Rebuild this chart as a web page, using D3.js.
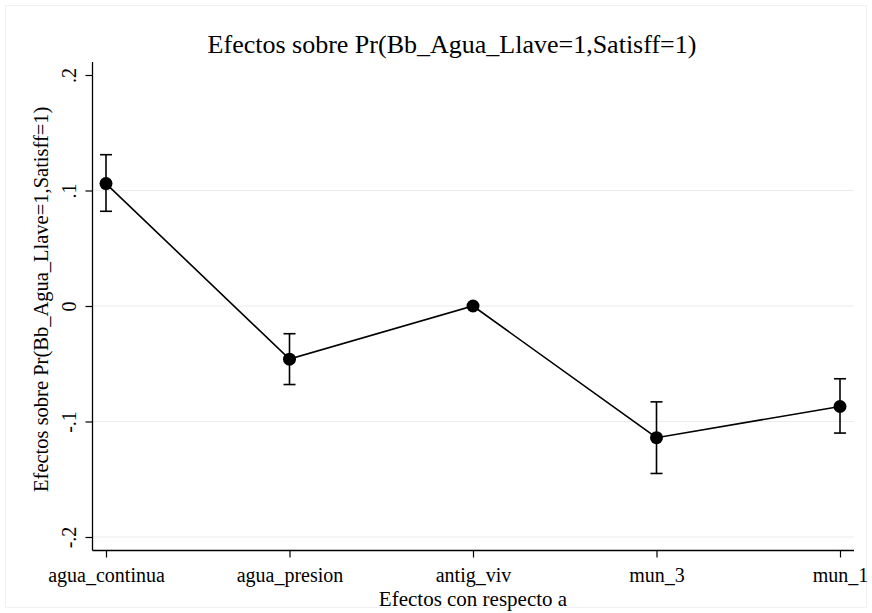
<!DOCTYPE html>
<html>
<head>
<meta charset="utf-8">
<script src="https://cdn.jsdelivr.net/npm/d3@7"></script>
<style>
html,body{margin:0;padding:0;background:#fff;}
svg{display:block;}
text{font-family:"Liberation Serif","Times New Roman",serif;fill:#000;}
</style>
</head>
<body>
<svg id="chart" width="872" height="613"></svg>
<script>
const categories = ["agua_continua","agua_presion","antig_viv","mun_3","mun_1"];
const estimates = [0.106, -0.046, 0.000, -0.114, -0.087];
const ciLower = [0.082, -0.068, -0.001, -0.145, -0.110];
const ciUpper = [0.131, -0.024, 0.001, -0.083, -0.063];
const yTicks = [-0.2, -0.1, 0, 0.1, 0.2];
const yTickLabels = ["-.2", "-.1", "0", ".1", ".2"];
const titleText = "Efectos sobre Pr(Bb_Agua_Llave=1,Satisff=1)";
const yTitle = "Efectos sobre Pr(Bb_Agua_Llave=1,Satisff=1)";
const xTitle = "Efectos con respecto a";

const svg = d3.select("#chart");
const W = 872, H = 613;

svg.append("rect").attr("x",5.5).attr("y",5.5).attr("width",W-11).attr("height",H-11)
  .attr("fill","#fff").attr("stroke","#f2f2f2");

const plotLeft = 92.5, plotRight = 854, plotTop = 62, plotBottom = 550.5;

const x = d3.scaleLinear().domain([1,5]).range([106,840]);
const y = d3.scaleLinear().domain([-0.2,0.2]).range([537,75]);

// gridlines
svg.append("g").selectAll("line").data(yTicks.filter(t => t < 0.2)).join("line")
  .attr("x1",plotLeft).attr("x2",plotRight)
  .attr("y1",d=>y(d)).attr("y2",d=>y(d))
  .attr("stroke","#ececec").attr("stroke-width",1.2);

// y axis
const yAxis = d3.axisLeft(y).tickValues(yTicks)
  .tickFormat((d,i)=>yTickLabels[i]).tickSize(7).tickSizeOuter(0).tickPadding(6);
const gy = svg.append("g").attr("transform",`translate(${plotLeft},0)`).call(yAxis);
gy.attr("font-family","Liberation Serif").attr("font-size",20);
gy.select(".domain").remove();
gy.append("line").attr("x1",0).attr("x2",0).attr("y1",plotTop).attr("y2",plotBottom)
  .attr("stroke","#000").attr("stroke-width",1.3);
gy.selectAll(".tick line").attr("stroke","#000").attr("stroke-width",1.2);
gy.selectAll(".tick text")
  .attr("font-size",20)
  .attr("text-anchor","middle").attr("x",null).attr("dy",null)
  .attr("transform","translate(-17,0) rotate(-90)");

// x axis
const xAxis = d3.axisBottom(x).tickValues([1,2,3,4,5])
  .tickFormat((d,i)=>categories[i]).tickSize(7).tickSizeOuter(0).tickPadding(10);
const gx = svg.append("g").attr("transform",`translate(0,${plotBottom})`).call(xAxis);
gx.attr("font-family","Liberation Serif").attr("font-size",20);
gx.select(".domain").remove();
gx.append("line").attr("x1",plotLeft).attr("x2",plotRight).attr("y1",0).attr("y2",0)
  .attr("stroke","#000").attr("stroke-width",1.3);
gx.selectAll(".tick line").attr("stroke","#000").attr("stroke-width",1.2);
gx.selectAll(".tick text").attr("font-size",20);

// error bars
const eb = svg.append("g");
categories.forEach((c,i)=>{
  const cx = x(i+1);
  eb.append("line").attr("x1",cx).attr("x2",cx).attr("y1",y(ciUpper[i])).attr("y2",y(ciLower[i]))
    .attr("stroke","#000").attr("stroke-width",1.6);
  [ciUpper[i],ciLower[i]].forEach(v=>{
    eb.append("line").attr("x1",cx-6).attr("x2",cx+6).attr("y1",y(v)).attr("y2",y(v))
      .attr("stroke","#000").attr("stroke-width",1.6);
  });
});

// connecting line
const line = d3.line().x((d,i)=>x(i+1)).y(d=>y(d));
svg.append("path").datum(estimates).attr("d",line)
  .attr("fill","none").attr("stroke","#000").attr("stroke-width",1.6);

// points
svg.append("g").selectAll("circle").data(estimates).join("circle")
  .attr("cx",(d,i)=>x(i+1)).attr("cy",d=>y(d)).attr("r",6.5).attr("fill","#000");

// titles
svg.append("text").attr("x",452).attr("y",53).attr("text-anchor","middle")
  .attr("font-size",26).text(titleText);
svg.append("text").attr("x",473).attr("y",606).attr("text-anchor","middle")
  .attr("font-size",21).text(xTitle);
svg.append("text").attr("transform",`translate(48,${(plotTop+plotBottom)/2 - 7}) rotate(-90)`)
  .attr("text-anchor","middle").attr("font-size",20.5).text(yTitle);
</script>
</body>
</html>
